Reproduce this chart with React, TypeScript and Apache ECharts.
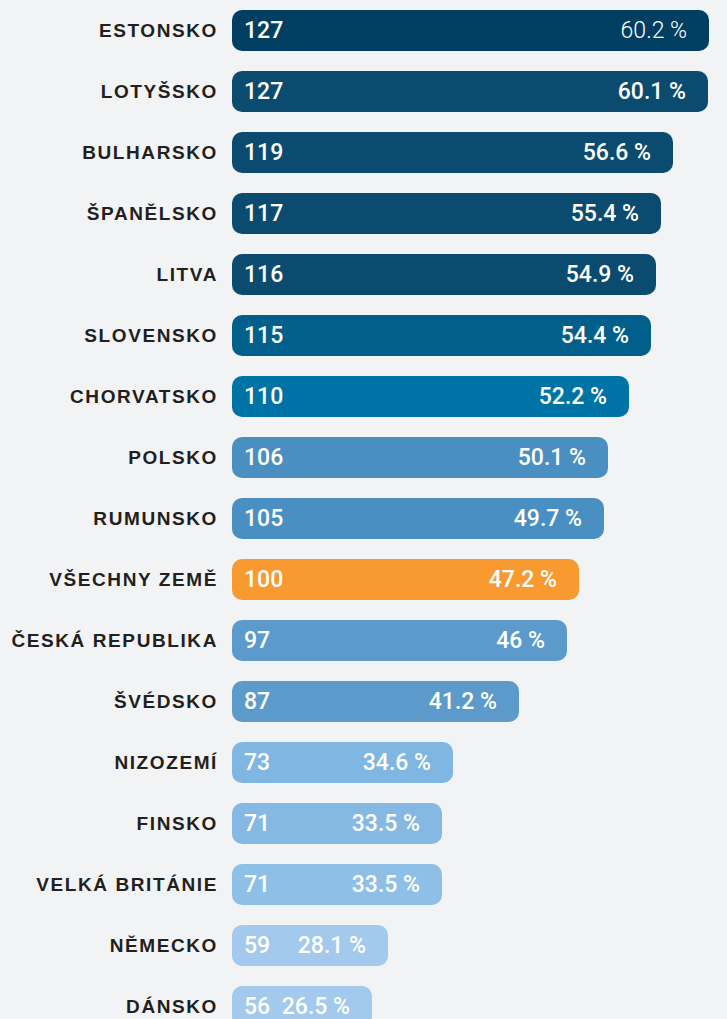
import React, { useEffect, useRef } from "react";
import * as echarts from "echarts";

const categories = [
  "ESTONSKO",
  "LOTYŠSKO",
  "BULHARSKO",
  "ŠPANĚLSKO",
  "LITVA",
  "SLOVENSKO",
  "CHORVATSKO",
  "POLSKO",
  "RUMUNSKO",
  "VŠECHNY ZEMĚ",
  "ČESKÁ REPUBLIKA",
  "ŠVÉDSKO",
  "NIZOZEMÍ",
  "FINSKO",
  "VELKÁ BRITÁNIE",
  "NĚMECKO",
  "DÁNSKO",
];
const indexValues = [127, 127, 119, 117, 116, 115, 110, 106, 105, 100, 97, 87, 73, 71, 71, 59, 56];
const percentValues = [60.2, 60.1, 56.6, 55.4, 54.9, 54.4, 52.2, 50.1, 49.7, 47.2, 46, 41.2, 34.6, 33.5, 33.5, 28.1, 26.5];
const barColors = [
  "#013f62",
  "#0b4b6f",
  "#0b4b6f",
  "#0b4b6f",
  "#0b4b6f",
  "#00608b",
  "#0073a6",
  "#4a8fc2",
  "#4a8fc2",
  "#f99a30",
  "#5b9acb",
  "#5b9acb",
  "#80b6e2",
  "#85b9e4",
  "#8dbfe7",
  "#a3c9ec",
  "#a3c9ec",
];

const NUM_FONT = "Roboto, 'DejaVu Sans Condensed', sans-serif";
const CAT_FONT = "'Liberation Sans', Arial, sans-serif";

export default function App() {
  const ref = useRef<HTMLDivElement>(null);

  useEffect(() => {
    document.body.style.margin = "0";
    document.body.style.background = "#f2f3f5";
    const styleEl = document.createElement("style");
    styleEl.textContent = 'text[fill="#231f20"]{letter-spacing:1.6px;}';
    document.head.appendChild(styleEl);

    const chart = echarts.init(ref.current!, null, { renderer: "svg" });
    chart.setOption({
      animation: false,
      backgroundColor: "#f2f3f5",
      grid: { left: 232, top: 0, width: 495, height: 1037, outerBoundsMode: "none", containLabel: false },
      xAxis: {
        type: "value",
        min: 12.5,
        max: 62,
        show: false,
      },
      yAxis: {
        type: "category",
        data: categories,
        inverse: true,
        axisLine: { show: false },
        axisTick: { show: false },
        splitLine: { show: false },
        axisLabel: {
          margin: 14,
          color: "#231f20",
          fontFamily: CAT_FONT,
          fontWeight: "bold",
          fontSize: 19,
        },
      },
      series: [
        {
          type: "bar",
          barWidth: 41,
          barGap: "-100%",
          data: percentValues.map((v, i) => ({
            value: v,
            itemStyle: { color: barColors[i], borderRadius: 10 },
          })),
          label: {
            show: true,
            position: "insideLeft",
            distance: 12,
            color: "#ffffff",
            fontFamily: NUM_FONT,
            fontWeight: 500,
            fontSize: 23,
            formatter: (p: any) => String(indexValues[p.dataIndex]),
          },
        },
        {
          type: "bar",
          barWidth: 41,
          barGap: "-100%",
          silent: true,
          data: percentValues.map((v, i) => ({
            value: v,
            label: i === 0 ? { fontWeight: 300 } : undefined,
          })),
          itemStyle: { color: "rgba(0,0,0,0)" },
          label: {
            show: true,
            position: "insideRight",
            distance: 22,
            color: "#ffffff",
            fontFamily: NUM_FONT,
            fontWeight: 500,
            fontSize: 23,
            formatter: (p: any) => String(p.value) + " %",
          },
        },
      ],
    });
    return () => {
      chart.dispose();
      styleEl.remove();
    };
  }, []);

  return <div ref={ref} style={{ width: 727, height: 1019 }} />;
}
